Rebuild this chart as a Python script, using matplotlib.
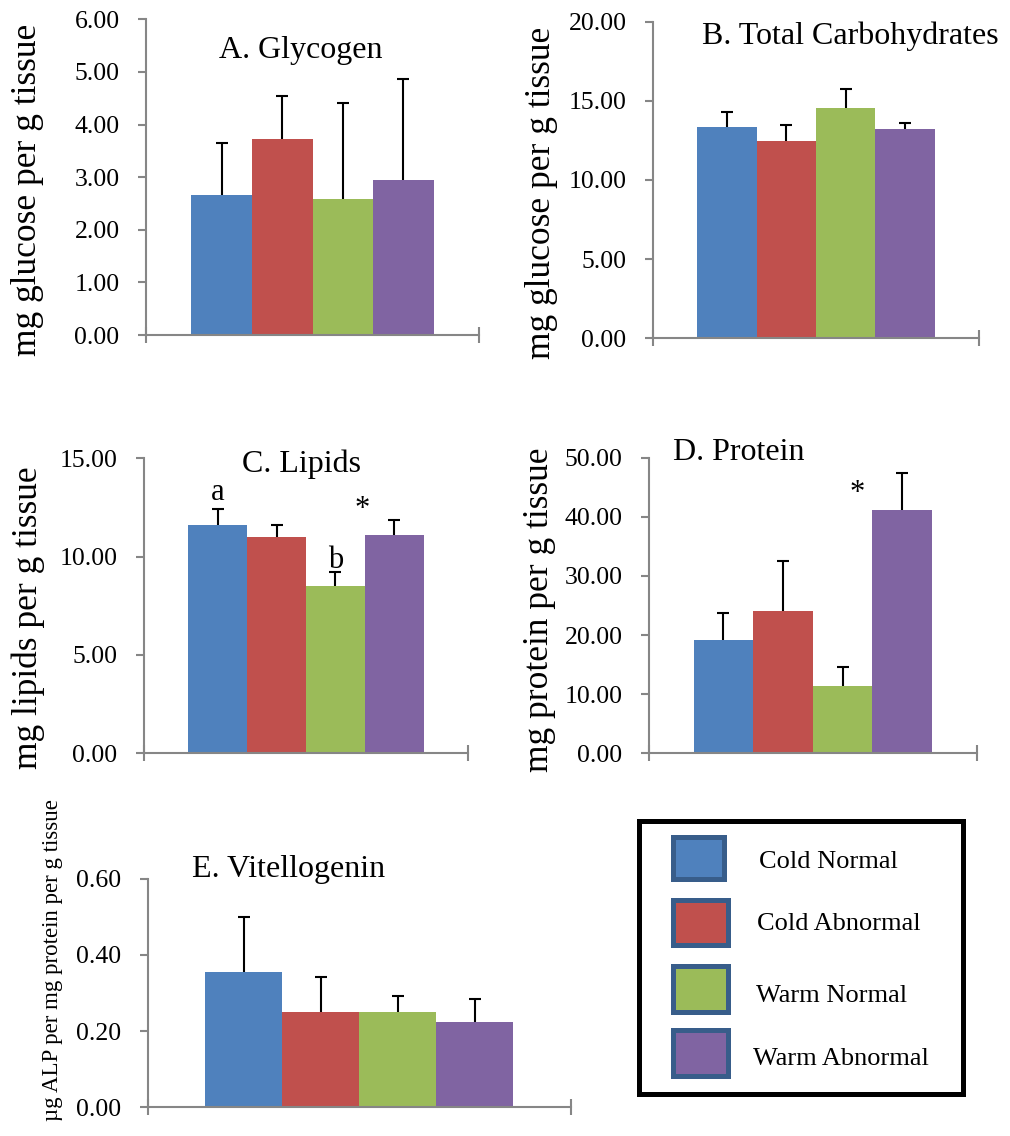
import numpy as np
import matplotlib
matplotlib.use('Agg')
import matplotlib.pyplot as plt
from matplotlib.patches import Rectangle

plt.rcParams['font.family'] = ['Liberation Serif', 'DejaVu Serif']

groups = ['Cold Normal', 'Cold Abnormal', 'Warm Normal', 'Warm Abnormal']
colors = ['#4F81BD', '#C0504D', '#9BBB59', '#8064A2']

# means and upper error (SE)
glycogen = [2.66, 3.72, 2.59, 2.94]
glycogen_err = [0.98, 0.83, 1.81, 1.92]
carbs = [13.35, 12.46, 14.53, 13.22]
carbs_err = [0.93, 1.01, 1.20, 0.38]
lipids = [11.61, 11.00, 8.50, 11.10]
lipids_err = [0.81, 0.61, 0.70, 0.76]
protein = [19.16, 24.00, 11.38, 41.10]
protein_err = [4.57, 8.60, 3.20, 6.30]
vtg = [0.355, 0.249, 0.249, 0.224]
vtg_err = [0.145, 0.093, 0.043, 0.060]

W, H = 1010, 1136
AXIS_GREY = '#868686'
fig = plt.figure(figsize=(W / 100, H / 100), dpi=100)


def px_axes(left, top, right, bottom):
    # axes box given in pixel coords of the picture
    return fig.add_axes([left / W, 1 - bottom / H, (right - left) / W, (bottom - top) / H])


def panel(ax, vals, errs, ymax, step, title, tx, ty, ha='center'):
    bw = 0.182
    x = 0.5 + (np.arange(len(vals)) - 1.5) * bw
    ax.bar(x, vals, bw, color=colors, linewidth=0, zorder=2)
    eb = ax.errorbar(x, vals, yerr=[np.zeros(len(errs)), errs], fmt='none',
                     ecolor='black', elinewidth=1.5, capsize=4.2, capthick=1.5, zorder=3)
    eb[1][0].set_visible(False)  # no cap at the bar top
    ax.set_xlim(0, 1)
    ax.set_ylim(0, ymax)
    ax.set_yticks(np.arange(0, ymax + step / 2, step))
    ax.yaxis.set_major_formatter(matplotlib.ticker.FormatStrFormatter('%.2f'))
    ax.set_xticks([0, 1])
    ax.set_xticklabels([])
    for s in ['top', 'right']:
        ax.spines[s].set_visible(False)
    for s in ['left', 'bottom']:
        ax.spines[s].set_color(AXIS_GREY)
        ax.spines[s].set_linewidth(1.5)
    ax.tick_params(axis='y', direction='out', length=6, width=1.5, color=AXIS_GREY,
                   pad=13, labelsize=18.5)
    ax.tick_params(axis='x', direction='inout', length=11, width=1.5, color=AXIS_GREY)
    ax.text(tx, ty, title, transform=ax.transAxes, ha=ha, va='baseline', fontsize=23)
    return x


axA = px_axes(146, 19.3, 479, 335)
panel(axA, glycogen, glycogen_err, 6, 1, 'A. Glycogen', 0.465, 0.876)

axB = px_axes(653, 21.7, 979, 338.3)
panel(axB, carbs, carbs_err, 20, 5, 'B. Total Carbohydrates', 0.606, 0.929)

axC = px_axes(144, 458.3, 468, 753.3)
xc = panel(axC, lipids, lipids_err, 15, 5, 'C. Lipids', 0.487, 0.955)
axC.text(xc[0], 12.88, 'a', ha='center', va='baseline', fontsize=22)
axC.text(xc[2], 9.4, 'b', ha='center', va='baseline', fontsize=22)
axC.text(0.672, 12.0, '*', ha='center', va='baseline', fontsize=22)

axD = px_axes(649, 457.7, 976.7, 753.3)
panel(axD, protein, protein_err, 50, 10, 'D. Protein', 0.074, 0.992, ha='left')
axD.text(0.636, 42.7, '*', ha='center', va='baseline', fontsize=22)

axE = px_axes(147.7, 878.7, 570.7, 1107.3)
panel(axE, vtg, vtg_err, 0.6, 0.2, 'E. Vitellogenin', 0.104, 1.009, ha='left')

# y labels
for (lx, ly, txt, fs) in [(28, 190, 'mg glucose per g tissue', 25.5),
                          (541, 192.5, 'mg glucose per g tissue', 25.5),
                          (28, 618, 'mg lipids per g tissue', 25.5),
                          (540, 609.5, 'mg protein per g tissue', 25.5),
                          (53, 960, 'µg ALP per mg protein per g tissue', 16.5)]:
    fig.text(lx / W, 1 - ly / H, txt, rotation=90, ha='center', va='center', fontsize=fs)

# legend box
lax = px_axes(639, 820.8, 962.5, 1093.5)
lax.set_xlim(639, 962.5)
lax.set_ylim(1093.5, 820.8)
lax.set_xticks([])
lax.set_yticks([])
for s in lax.spines.values():
    s.set_color('black')
    s.set_linewidth(3.6)
    s.set_joinstyle('round')
patch_boxes = [(670.7, 834, 726.7, 881.7), (670.7, 897.7, 730, 947.7),
               (670.7, 963.3, 730, 1014), (670.7, 1027.3, 730, 1078.3)]
text_pos = [(759.3, 868), (756.7, 930), (756, 1001.7), (753.3, 1065)]
for (x0, y0, x1, y1), (tx, ty), c, g in zip(patch_boxes, text_pos, colors, groups):
    lax.add_patch(Rectangle((x0 + 2.5, y0 + 2.5), x1 - x0 - 5, y1 - y0 - 5,
                            facecolor=c, edgecolor='#385D8A', linewidth=3.6))
    lax.text(tx, ty, g, ha='left', va='baseline', fontsize=19)

fig.savefig('out.png', dpi=100)
